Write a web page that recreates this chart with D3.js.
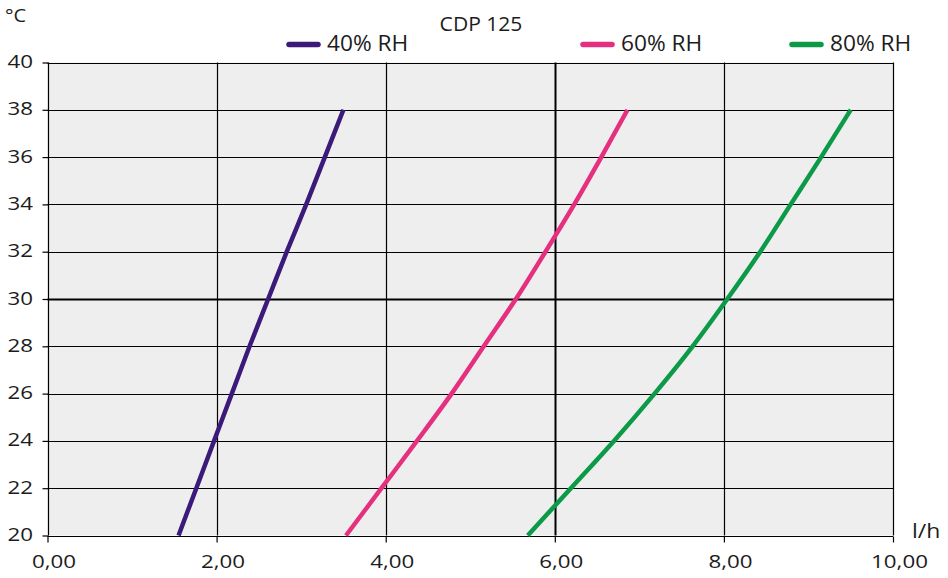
<!DOCTYPE html>
<html>
<head>
<meta charset="utf-8">
<script src="https://cdn.jsdelivr.net/npm/d3@7/dist/d3.min.js"></script>
<style>
  html, body { margin: 0; padding: 0; background: #fff; }
  svg { display: block; }
  text { font-family: "Open Sans", "DejaVu Sans", sans-serif; font-weight: 400; fill: #1c1c1c; }
</style>
</head>
<body>
<svg id="chart" width="948" height="578"></svg>
<script>
// ---- data ----
const title = "CDP 125";
const yUnit = "°C";
const xUnit = "l/h";
const temperatures = [20, 22, 24, 26, 28, 30, 32, 34, 36, 38];
const seriesNames = ["40% RH", "60% RH", "80% RH"];
const seriesColors = ["#3c1a7a", "#e5307f", "#0c9a48"];
const flow40 = [1.55, 1.76, 1.97, 2.18, 2.39, 2.61, 2.83, 3.06, 3.28, 3.50];
const flow60 = [3.53, 3.95, 4.37, 4.78, 5.16, 5.54, 5.89, 6.23, 6.55, 6.86];
const flow80 = [5.68, 6.19, 6.70, 7.18, 7.63, 8.04, 8.43, 8.79, 9.15, 9.50];
const xTicks = [0, 2, 4, 6, 8, 10];
const yTicks = [20, 22, 24, 26, 28, 30, 32, 34, 36, 38, 40];
const xDomain = [0, 10];
const yDomain = [20, 40];
const xBold = 6;
const yBold = 30;

// ---- layout ----
const svg = d3.select("#chart");
const mLeft = 47.5, mRight = 893, mTop = 62.5, mBottom = 535.5;
const tickStretch = 1.2;   // digits in the reference are wide
const fs = 18.6;
const x = d3.scaleLinear().domain(xDomain).range([mLeft, mRight]);
const y = d3.scaleLinear().domain(yDomain).range([mBottom, mTop]);
const fmt = d => d3.format(".2f")(d).replace(".", ",");

function label(px, py, str, anchor, size, stretch) {
  return svg.append("text")
    .attr("transform", `translate(${px},${py}) scale(${stretch},1)`)
    .attr("text-anchor", anchor || "start")
    .attr("font-size", size)
    .text(str);
}

svg.append("rect")
  .attr("x", mLeft).attr("y", mTop)
  .attr("width", mRight - mLeft).attr("height", mBottom - mTop)
  .attr("fill", "#eeeeee");

// grid
svg.append("g").selectAll("line").data(yTicks).join("line")
  .attr("x1", mLeft).attr("x2", mRight)
  .attr("y1", d => Math.round(y(d)) + 0.5).attr("y2", d => Math.round(y(d)) + 0.5)
  .attr("stroke", "#000")
  .attr("stroke-width", d => d === yBold ? 2 : 1.2);
svg.append("g").selectAll("line").data(xTicks).join("line")
  .attr("y1", mTop).attr("y2", mBottom)
  .attr("x1", d => Math.round(x(d)) + 0.5).attr("x2", d => Math.round(x(d)) + 0.5)
  .attr("stroke", "#000")
  .attr("stroke-width", d => d === xBold ? 2 : 1.2);

// axes
const xAxis = d3.axisBottom(x).tickValues(xTicks).tickFormat(fmt).tickSize(6).tickPadding(8);
const gx = svg.append("g").attr("transform", `translate(0,${Math.round(mBottom) + 0.5})`).call(xAxis);
gx.select(".domain").remove();
gx.selectAll(".tick line").attr("stroke", "#000").attr("stroke-width", 1.2);
gx.selectAll(".tick text").attr("font-size", fs).attr("dx", 5).attr("dy", 18)
  .attr("transform", `scale(${tickStretch},1)`)
  .style("font-family", "\"Open Sans\", \"DejaVu Sans\", sans-serif")
  .attr("fill", "#1c1c1c");

const yAxis = d3.axisLeft(y).tickValues(yTicks).tickFormat(d3.format("d")).tickSize(6).tickPadding(7);
const gy = svg.append("g").attr("transform", `translate(${Math.round(mLeft) + 0.5},0)`).call(yAxis);
gy.select(".domain").remove();
gy.selectAll(".tick line").attr("stroke", "#000").attr("stroke-width", 1.2);
gy.selectAll(".tick text").attr("font-size", fs).attr("dy", 5)
  .attr("transform", `scale(${tickStretch},1)`)
  .style("font-family", "\"Open Sans\", \"DejaVu Sans\", sans-serif")
  .attr("fill", "#1c1c1c");

// units
label(5, 22, yUnit, "start", 19, 1.05);
label(912, 538, xUnit, "start", 20, 1.15);

// series
const allFlows = [flow40, flow60, flow80];
const line = d3.line().x(d => x(d[0])).y(d => y(d[1])).curve(d3.curveMonotoneY);
allFlows.forEach((fl, i) => {
  const pts = temperatures.map((t, j) => [fl[j], t]);
  svg.append("path").datum(pts)
    .attr("d", line)
    .attr("fill", "none")
    .attr("stroke", seriesColors[i])
    .attr("stroke-width", 4.5)
    .attr("stroke-linecap", "butt");
});

// title
label(481, 31, title, "middle", 19.5, 1.08);

// legend
const legendX = [289, 583, 792];
seriesNames.forEach((name, i) => {
  svg.append("line")
    .attr("x1", legendX[i]).attr("x2", legendX[i] + 29)
    .attr("y1", 44.5).attr("y2", 44.5)
    .attr("stroke", seriesColors[i]).attr("stroke-width", 5.5).attr("stroke-linecap", "round");
  label(legendX[i] + 38, 51, name, "start", 21, 1.08);
});
</script>
</body>
</html>
